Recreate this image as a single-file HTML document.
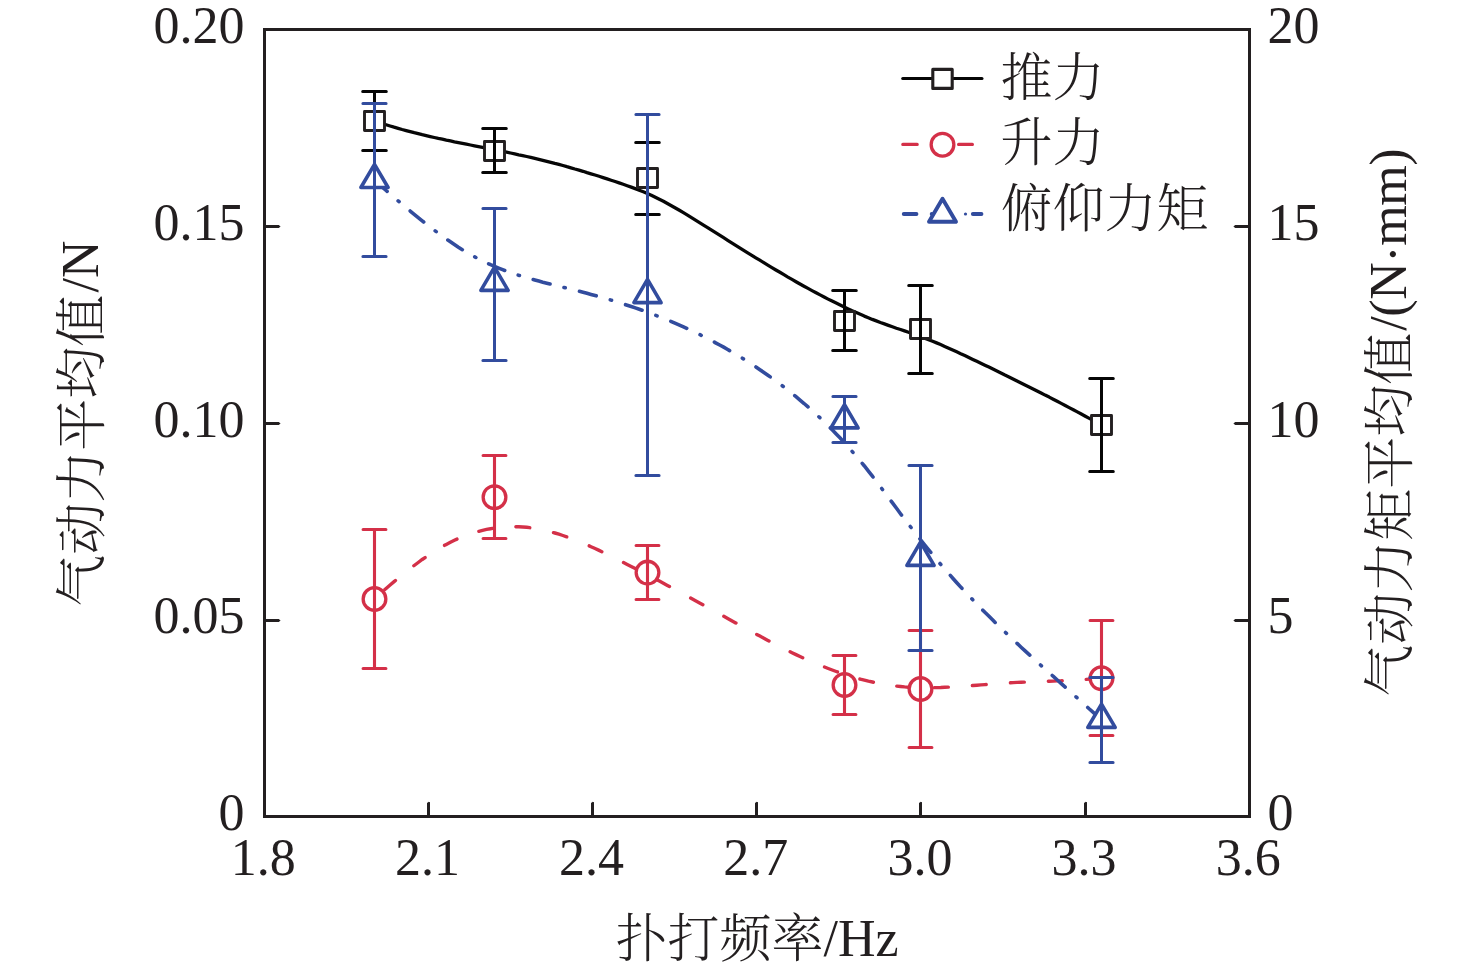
<!DOCTYPE html>
<html lang="zh"><head><meta charset="utf-8"><title>气动力平均值</title>
<style>
html,body{margin:0;padding:0;background:#fff}
svg{display:block}
text{font-family:"Liberation Serif","Noto Serif CJK SC",serif;fill:#231f20}
.t{font-size:52px}
.c{font-family:"Liberation Serif","Noto Serif CJK SC",serif;font-weight:300}
</style></head><body>
<svg width="1476" height="972" viewBox="0 0 1476 972">
<rect width="1476" height="972" fill="#fff"/>
<path d="M374.0,120.8 L378.0,122.2 L382.0,123.5 L386.1,124.8 L390.1,126.0 L394.1,127.2 L398.1,128.3 L402.1,129.5 L406.2,130.6 L410.2,131.6 L414.2,132.7 L418.2,133.7 L422.2,134.7 L426.2,135.6 L430.3,136.6 L434.3,137.5 L438.3,138.4 L442.3,139.2 L446.3,140.1 L450.4,140.9 L454.4,141.8 L458.4,142.6 L462.4,143.4 L466.4,144.2 L470.5,145.0 L474.5,145.8 L478.5,146.6 L482.5,147.4 L486.5,148.2 L490.5,149.0 L494.6,149.8 L498.6,150.6 L502.6,151.4 L506.6,152.2 L510.6,153.0 L514.7,153.9 L518.7,154.8 L522.7,155.6 L526.7,156.5 L530.7,157.4 L534.8,158.4 L538.8,159.3 L542.8,160.3 L546.8,161.3 L550.8,162.3 L554.8,163.4 L558.9,164.4 L562.9,165.5 L566.9,166.7 L570.9,167.8 L574.9,169.0 L579.0,170.1 L583.0,171.3 L587.0,172.6 L591.0,173.8 L595.0,175.0 L599.1,176.3 L603.1,177.6 L607.1,178.9 L611.1,180.2 L615.1,181.5 L619.1,182.9 L623.2,184.3 L627.2,185.7 L631.2,187.1 L635.2,188.6 L639.2,190.2 L643.3,191.8 L647.3,193.5 L651.3,195.3 L655.3,197.3 L659.3,199.3 L663.4,201.3 L667.4,203.5 L671.4,205.7 L675.4,208.0 L679.4,210.3 L683.4,212.7 L687.5,215.1 L691.5,217.6 L695.5,220.1 L699.5,222.6 L703.5,225.1 L707.6,227.6 L711.6,230.2 L715.6,232.7 L719.6,235.2 L723.6,237.7 L727.7,240.3 L731.7,242.8 L735.7,245.3 L739.7,247.8 L743.7,250.3 L747.7,252.8 L751.8,255.3 L755.8,257.8 L759.8,260.2 L763.8,262.7 L767.8,265.1 L771.9,267.6 L775.9,270.0 L779.9,272.3 L783.9,274.7 L787.9,277.1 L792.0,279.4 L796.0,281.7 L800.0,284.0 L804.0,286.2 L808.0,288.4 L812.0,290.6 L816.1,292.8 L820.1,294.9 L824.1,297.0 L828.1,299.1 L832.1,301.1 L836.2,303.1 L840.2,305.1 L844.2,307.0 L848.2,308.9 L852.2,310.8 L856.3,312.6 L860.3,314.3 L864.3,316.1 L868.3,317.7 L872.3,319.4 L876.3,320.9 L880.4,322.5 L884.4,323.9 L888.4,325.4 L892.4,326.8 L896.4,328.2 L900.5,329.5 L904.5,330.9 L908.5,332.3 L912.5,333.7 L916.5,335.1 L920.6,336.6 L924.6,338.1 L928.6,339.7 L932.6,341.3 L936.6,342.9 L940.6,344.6 L944.7,346.4 L948.7,348.2 L952.7,350.0 L956.7,351.8 L960.7,353.7 L964.8,355.5 L968.8,357.4 L972.8,359.4 L976.8,361.3 L980.8,363.2 L984.9,365.2 L988.9,367.1 L992.9,369.1 L996.9,371.0 L1000.9,373.0 L1004.9,375.0 L1009.0,376.9 L1013.0,378.9 L1017.0,380.9 L1021.0,382.9 L1025.0,384.9 L1029.1,386.9 L1033.1,388.9 L1037.1,391.0 L1041.1,393.0 L1045.1,395.1 L1049.2,397.1 L1053.2,399.2 L1057.2,401.3 L1061.2,403.4 L1065.2,405.5 L1069.2,407.6 L1073.3,409.7 L1077.3,411.9 L1081.3,414.0 L1085.3,416.2 L1089.3,418.4 L1093.4,420.6 L1097.4,422.8 L1101.4,425.0" fill="none" stroke="#060606" stroke-width="3.3" stroke-linecap="round" stroke-linejoin="round"/>
<rect x="364.5" y="111.5" width="20.0" height="19.0" fill="#fff" stroke="#231f20" stroke-width="2.9" stroke-linejoin="round"/>
<path d="M374.5,91.5V150.5M362.7,91.5H386.3M362.7,150.5H386.3" stroke="#060606" stroke-width="3" stroke-linecap="round" fill="none"/>
<rect x="484.5" y="141.5" width="20.0" height="19.0" fill="#fff" stroke="#231f20" stroke-width="2.9" stroke-linejoin="round"/>
<path d="M494.5,128.5V172.5M482.7,128.5H506.3M482.7,172.5H506.3" stroke="#060606" stroke-width="3" stroke-linecap="round" fill="none"/>
<rect x="637.5" y="168.5" width="20.0" height="19.0" fill="#fff" stroke="#231f20" stroke-width="2.9" stroke-linejoin="round"/>
<path d="M647.5,142.5V214.5M635.7,142.5H659.3M635.7,214.5H659.3" stroke="#060606" stroke-width="3" stroke-linecap="round" fill="none"/>
<rect x="834.5" y="311.5" width="20.0" height="19.0" fill="#fff" stroke="#231f20" stroke-width="2.9" stroke-linejoin="round"/>
<path d="M844.5,290.5V350.5M832.7,290.5H856.3M832.7,350.5H856.3" stroke="#060606" stroke-width="3" stroke-linecap="round" fill="none"/>
<rect x="910.5" y="319.5" width="20.0" height="19.0" fill="#fff" stroke="#231f20" stroke-width="2.9" stroke-linejoin="round"/>
<path d="M920.5,285.5V373.5M908.7,285.5H932.3M908.7,373.5H932.3" stroke="#060606" stroke-width="3" stroke-linecap="round" fill="none"/>
<rect x="1091.5" y="415.5" width="20.0" height="19.0" fill="#fff" stroke="#231f20" stroke-width="2.9" stroke-linejoin="round"/>
<path d="M1101.5,378.5V471.5M1089.7,378.5H1113.3M1089.7,471.5H1113.3" stroke="#060606" stroke-width="3" stroke-linecap="round" fill="none"/>
<path d="M374.0,599.0 L378.0,595.5 L382.0,592.0 L386.1,588.5 L390.1,585.0 L394.1,581.6 L398.1,578.3 L402.1,575.0 L406.2,571.7 L410.2,568.6 L414.2,565.5 L418.2,562.5 L422.2,559.5 L426.3,556.7 L430.3,554.0 L434.3,551.4 L438.3,548.9 L442.3,546.6 L446.3,544.4 L450.4,542.3 L454.4,540.3 L458.4,538.5 L462.4,536.8 L466.4,535.3 L470.5,533.8 L474.5,532.6 L478.5,531.4 L482.5,530.4 L486.5,529.4 L490.6,528.7 L494.6,528.0 L498.6,527.5 L502.6,527.1 L506.6,526.8 L510.7,526.7 L514.7,526.7 L518.7,526.8 L522.7,527.0 L526.7,527.3 L530.8,527.8 L534.8,528.4 L538.8,529.1 L542.8,529.9 L546.8,530.8 L550.9,531.9 L554.9,533.0 L558.9,534.2 L562.9,535.5 L566.9,536.9 L570.9,538.4 L575.0,539.9 L579.0,541.5 L583.0,543.2 L587.0,544.9 L591.0,546.7 L595.1,548.5 L599.1,550.4 L603.1,552.3 L607.1,554.3 L611.1,556.3 L615.2,558.3 L619.2,560.3 L623.2,562.3 L627.2,564.4 L631.2,566.4 L635.3,568.5 L639.3,570.6 L643.3,572.7 L647.3,574.8 L651.3,576.9 L655.4,579.0 L659.4,581.1 L663.4,583.3 L667.4,585.4 L671.4,587.6 L675.5,589.7 L679.5,591.9 L683.5,594.1 L687.5,596.3 L691.5,598.5 L695.5,600.7 L699.6,602.9 L703.6,605.1 L707.6,607.3 L711.6,609.5 L715.6,611.7 L719.7,614.0 L723.7,616.2 L727.7,618.4 L731.7,620.7 L735.7,622.9 L739.8,625.1 L743.8,627.3 L747.8,629.6 L751.8,631.8 L755.8,633.9 L759.9,636.1 L763.9,638.3 L767.9,640.4 L771.9,642.5 L775.9,644.6 L780.0,646.7 L784.0,648.7 L788.0,650.7 L792.0,652.7 L796.0,654.6 L800.0,656.5 L804.1,658.4 L808.1,660.2 L812.1,661.9 L816.1,663.7 L820.1,665.3 L824.2,666.9 L828.2,668.5 L832.2,670.0 L836.2,671.5 L840.2,672.9 L844.3,674.3 L848.3,675.6 L852.3,676.8 L856.3,678.0 L860.3,679.1 L864.4,680.1 L868.4,681.1 L872.4,682.0 L876.4,682.9 L880.4,683.7 L884.5,684.4 L888.5,685.0 L892.5,685.6 L896.5,686.1 L900.5,686.5 L904.6,686.9 L908.6,687.2 L912.6,687.4 L916.6,687.6 L920.6,687.7 L924.6,687.7 L928.7,687.7 L932.7,687.7 L936.7,687.6 L940.7,687.5 L944.7,687.3 L948.8,687.1 L952.8,686.9 L956.8,686.7 L960.8,686.4 L964.8,686.1 L968.9,685.8 L972.9,685.5 L976.9,685.2 L980.9,684.9 L984.9,684.6 L989.0,684.3 L993.0,684.0 L997.0,683.7 L1001.0,683.4 L1005.0,683.1 L1009.1,682.9 L1013.1,682.6 L1017.1,682.4 L1021.1,682.2 L1025.1,682.1 L1029.2,681.9 L1033.2,681.8 L1037.2,681.6 L1041.2,681.5 L1045.2,681.3 L1049.2,681.2 L1053.3,681.1 L1057.3,680.9 L1061.3,680.8 L1065.3,680.6 L1069.3,680.4 L1073.4,680.2 L1077.4,680.0 L1081.4,679.7 L1085.4,679.4 L1089.4,679.1 L1093.5,678.8 L1097.5,678.4 L1101.5,678.0" fill="none" stroke="#d43048" stroke-width="3.4" stroke-linecap="round" stroke-dasharray="13.90 23.58 13.90 23.00 13.90 23.28 13.90 23.53 13.90 24.28 13.90 24.22 13.90 24.22 13.90 24.07 13.90 24.11 13.90 23.95 13.90 23.71 13.90 23.74 13.90 23.69 13.90 23.51 13.90 23.67 13.90 23.82 13.90 24.13 13.90 24.23 13.90 24.07 13.90 24.01 13.90 2000.00" stroke-dashoffset="-14.43"/>
<circle cx="374.5" cy="599.0" r="11.35" fill="#fff" stroke="#d43048" stroke-width="3.3"/>
<path d="M374.5,529.5V668.5M363.1,529.5H385.9M363.1,668.5H385.9" stroke="#d43048" stroke-width="3.1" stroke-linecap="round" fill="none"/>
<circle cx="494.5" cy="497.2" r="11.35" fill="#fff" stroke="#d43048" stroke-width="3.3"/>
<path d="M494.5,455.5V538.5M483.1,455.5H505.9M483.1,538.5H505.9" stroke="#d43048" stroke-width="3.1" stroke-linecap="round" fill="none"/>
<circle cx="647.5" cy="572.6" r="11.35" fill="#fff" stroke="#d43048" stroke-width="3.3"/>
<path d="M647.5,545.5V599.5M636.1,545.5H658.9M636.1,599.5H658.9" stroke="#d43048" stroke-width="3.1" stroke-linecap="round" fill="none"/>
<circle cx="844.5" cy="685.0" r="11.35" fill="#fff" stroke="#d43048" stroke-width="3.3"/>
<path d="M844.5,655.5V714.5M833.1,655.5H855.9M833.1,714.5H855.9" stroke="#d43048" stroke-width="3.1" stroke-linecap="round" fill="none"/>
<circle cx="920.5" cy="689.0" r="11.35" fill="#fff" stroke="#d43048" stroke-width="3.3"/>
<path d="M920.5,630.5V747.5M909.1,630.5H931.9M909.1,747.5H931.9" stroke="#d43048" stroke-width="3.1" stroke-linecap="round" fill="none"/>
<circle cx="1101.5" cy="678.3" r="11.35" fill="#fff" stroke="#d43048" stroke-width="3.3"/>
<path d="M1101.5,620.5V735.5M1090.1,620.5H1112.9M1090.1,735.5H1112.9" stroke="#d43048" stroke-width="3.1" stroke-linecap="round" fill="none"/>
<path d="M374.0,180.0 L378.0,183.5 L382.0,187.0 L386.1,190.5 L390.1,193.9 L394.1,197.4 L398.1,200.8 L402.1,204.2 L406.2,207.6 L410.2,211.0 L414.2,214.3 L418.2,217.6 L422.2,220.8 L426.3,224.0 L430.3,227.1 L434.3,230.2 L438.3,233.2 L442.3,236.2 L446.3,239.0 L450.4,241.8 L454.4,244.5 L458.4,247.2 L462.4,249.7 L466.4,252.1 L470.5,254.5 L474.5,256.7 L478.5,258.9 L482.5,260.9 L486.5,262.8 L490.6,264.7 L494.6,266.4 L498.6,268.1 L502.6,269.7 L506.6,271.2 L510.7,272.6 L514.7,274.0 L518.7,275.3 L522.7,276.5 L526.7,277.7 L530.8,278.9 L534.8,280.0 L538.8,281.1 L542.8,282.2 L546.8,283.2 L550.9,284.2 L554.9,285.2 L558.9,286.2 L562.9,287.2 L566.9,288.2 L570.9,289.2 L575.0,290.2 L579.0,291.2 L583.0,292.2 L587.0,293.3 L591.0,294.4 L595.1,295.5 L599.1,296.6 L603.1,297.8 L607.1,298.9 L611.1,300.1 L615.2,301.3 L619.2,302.6 L623.2,303.9 L627.2,305.2 L631.2,306.5 L635.3,307.9 L639.3,309.3 L643.3,310.7 L647.3,312.2 L651.3,313.7 L655.4,315.2 L659.4,316.7 L663.4,318.3 L667.4,320.0 L671.4,321.6 L675.5,323.4 L679.5,325.1 L683.5,326.9 L687.5,328.7 L691.5,330.6 L695.5,332.5 L699.6,334.5 L703.6,336.5 L707.6,338.5 L711.6,340.6 L715.6,342.8 L719.7,345.0 L723.7,347.2 L727.7,349.5 L731.7,351.8 L735.7,354.2 L739.8,356.7 L743.8,359.1 L747.8,361.7 L751.8,364.3 L755.8,366.9 L759.9,369.7 L763.9,372.4 L767.9,375.2 L771.9,378.1 L775.9,381.1 L780.0,384.1 L784.0,387.1 L788.0,390.3 L792.0,393.5 L796.0,396.7 L800.0,400.1 L804.1,403.5 L808.1,407.0 L812.1,410.5 L816.1,414.2 L820.1,417.9 L824.2,421.8 L828.2,425.7 L832.2,429.8 L836.2,433.9 L840.2,438.1 L844.3,442.5 L848.3,447.0 L852.3,451.6 L856.3,456.3 L860.3,461.1 L864.4,466.0 L868.4,471.1 L872.4,476.2 L876.4,481.5 L880.4,486.8 L884.5,492.1 L888.5,497.5 L892.5,502.9 L896.5,508.3 L900.5,513.7 L904.6,519.0 L908.6,524.3 L912.6,529.5 L916.6,534.7 L920.6,539.8 L924.6,544.9 L928.7,549.9 L932.7,554.8 L936.7,559.6 L940.7,564.4 L944.7,569.0 L948.8,573.6 L952.8,578.2 L956.8,582.7 L960.8,587.1 L964.8,591.4 L968.9,595.7 L972.9,599.9 L976.9,604.1 L980.9,608.2 L984.9,612.3 L989.0,616.3 L993.0,620.3 L997.0,624.3 L1001.0,628.2 L1005.0,632.0 L1009.1,635.9 L1013.1,639.7 L1017.1,643.4 L1021.1,647.2 L1025.1,650.9 L1029.2,654.6 L1033.2,658.3 L1037.2,661.9 L1041.2,665.6 L1045.2,669.2 L1049.2,672.8 L1053.3,676.4 L1057.3,680.0 L1061.3,683.6 L1065.3,687.2 L1069.3,690.8 L1073.4,694.4 L1077.4,698.1 L1081.4,701.7 L1085.4,705.3 L1089.4,709.0 L1093.5,712.6 L1097.5,716.3 L1101.5,720.0" fill="none" stroke="#324c9e" stroke-width="3.6" stroke-linecap="round" stroke-dasharray="17.40 14.48 1.30 14.51 17.40 14.51 1.30 14.32 17.40 14.32 1.30 14.26 17.40 14.26 1.30 14.38 17.40 14.38 1.30 14.62 17.40 14.62 1.30 14.71 17.40 14.71 1.30 14.79 17.40 14.79 1.30 14.85 17.40 14.85 1.30 14.89 17.40 14.89 1.30 14.69 17.40 14.69 1.30 14.62 17.40 14.62 1.30 14.41 17.40 14.41 1.30 14.41 17.40 14.41 1.30 14.38 17.40 14.38 1.30 14.44 17.40 14.44 1.30 14.46 17.40 14.46 1.30 14.52 17.40 14.52 1.30 14.50 17.40 14.50 1.30 14.55 17.40 2000.00"/>
<path d="M374.5,164.3L388.1,187.5H360.9Z" fill="#fff" stroke="#324c9e" stroke-width="3.6" stroke-linejoin="round"/>
<path d="M374.5,103.5V256.5M362.9,103.5H386.1M362.9,256.5H386.1" stroke="#324c9e" stroke-width="3" stroke-linecap="round" fill="none"/>
<path d="M494.5,267.2L508.1,290.4H480.9Z" fill="#fff" stroke="#324c9e" stroke-width="3.6" stroke-linejoin="round"/>
<path d="M494.5,208.5V360.5M482.9,208.5H506.1M482.9,360.5H506.1" stroke="#324c9e" stroke-width="3" stroke-linecap="round" fill="none"/>
<path d="M647.5,279.4L661.1,302.6H633.9Z" fill="#fff" stroke="#324c9e" stroke-width="3.6" stroke-linejoin="round"/>
<path d="M647.5,114.5V475.5M635.9,114.5H659.1M635.9,475.5H659.1" stroke="#324c9e" stroke-width="3" stroke-linecap="round" fill="none"/>
<path d="M844.5,404.7L858.1,427.9H830.9Z" fill="#fff" stroke="#324c9e" stroke-width="3.6" stroke-linejoin="round"/>
<path d="M844.5,396.5V442.5M832.9,396.5H856.1M832.9,442.5H856.1" stroke="#324c9e" stroke-width="3" stroke-linecap="round" fill="none"/>
<path d="M920.5,542.2L934.1,565.4H906.9Z" fill="#fff" stroke="#324c9e" stroke-width="3.6" stroke-linejoin="round"/>
<path d="M920.5,465.5V650.5M908.9,465.5H932.1M908.9,650.5H932.1" stroke="#324c9e" stroke-width="3" stroke-linecap="round" fill="none"/>
<path d="M1101.5,704.2L1115.2,727.4H1087.8Z" fill="#fff" stroke="#324c9e" stroke-width="3.6" stroke-linejoin="round"/>
<path d="M1101.5,677.5V762.5M1089.9,677.5H1113.1M1089.9,762.5H1113.1" stroke="#324c9e" stroke-width="3" stroke-linecap="round" fill="none"/>
<rect x="264.5" y="29.5" width="985.0" height="787.0" fill="none" stroke="#231f20" stroke-width="3"/>
<path d="M264.5,225.0H278.8L280.6,226.5L278.8,228.0H264.5ZM1249.5,225.0H1235.2L1233.4,226.5L1235.2,228.0H1249.5ZM264.5,422.0H278.8L280.6,423.5L278.8,425.0H264.5ZM1249.5,422.0H1235.2L1233.4,423.5L1235.2,425.0H1249.5ZM264.5,619.0H278.8L280.6,620.5L278.8,622.0H264.5ZM1249.5,619.0H1235.2L1233.4,620.5L1235.2,622.0H1249.5ZM427.0,816.5V803.1L428.8,801.7L430.0,802.3V816.5ZM591.0,816.5V803.1L592.8,801.7L594.0,802.3V816.5ZM755.0,816.5V803.1L756.8,801.7L758.0,802.3V816.5ZM919.0,816.5V803.1L920.8,801.7L922.0,802.3V816.5ZM1084.0,816.5V803.1L1085.8,801.7L1087.0,802.3V816.5Z" fill="#231f20"/>
<text class="t" x="244.5" y="43.1" text-anchor="end">0.20</text>
<text class="t" x="244.5" y="239.8" text-anchor="end">0.15</text>
<text class="t" x="244.5" y="436.6" text-anchor="end">0.10</text>
<text class="t" x="244.5" y="633.4" text-anchor="end">0.05</text>
<text class="t" x="244.5" y="830.1" text-anchor="end">0</text>
<text class="t" x="1267.6" y="43.1">20</text>
<text class="t" x="1267.6" y="239.8">15</text>
<text class="t" x="1267.6" y="436.6">10</text>
<text class="t" x="1267.6" y="633.4">5</text>
<text class="t" x="1267.6" y="830.1">0</text>
<text class="t" x="263.2" y="875.3" text-anchor="middle">1.8</text>
<text class="t" x="427.4" y="875.3" text-anchor="middle">2.1</text>
<text class="t" x="591.5" y="875.3" text-anchor="middle">2.4</text>
<text class="t" x="755.7" y="875.3" text-anchor="middle">2.7</text>
<text class="t" x="919.9" y="875.3" text-anchor="middle">3.0</text>
<text class="t" x="1084.0" y="875.3" text-anchor="middle">3.3</text>
<text class="t" x="1248.2" y="875.3" text-anchor="middle">3.6</text>
<text class="t c" x="757" y="955.5" text-anchor="middle"><tspan dy="1.8">扑打频率</tspan><tspan dy="-1.8">/Hz</tspan></text>
<text class="t c" transform="translate(98,423.7) rotate(-90)" text-anchor="middle"><tspan dy="1.6">气动力平均值</tspan><tspan dy="-1.6" dx="2.3">/N</tspan></text>
<text class="t c" transform="translate(1406,422.8) rotate(-90)" text-anchor="middle"><tspan dy="1.6">气动力矩平均值</tspan><tspan dy="-1.6" dx="2" letter-spacing="-0.4">/(N</tspan><tspan dy="3.5" letter-spacing="-0.4">·</tspan><tspan dy="-3.5" letter-spacing="-0.4">mm)</tspan></text>
<path d="M902.7,78.6H982" stroke="#060606" stroke-width="3" stroke-linecap="round"/>
<rect x="932.8" y="69.4" width="19.4" height="19" fill="#fff" stroke="#231f20" stroke-width="3.1" stroke-linejoin="round"/>
<path d="M902.8,144.4H917.2M958.6,144.4H972.4" stroke="#d43048" stroke-width="3.2" stroke-linecap="round"/>
<circle cx="942.5" cy="144.7" r="11.35" fill="#fff" stroke="#d43048" stroke-width="3.3"/>
<path d="M903.75,214H916.45M931.7,213.9h0.01M972.85,214H981.45" stroke="#324c9e" stroke-width="3.9" stroke-linecap="round"/>
<circle cx="965.5" cy="214" r="1.6" fill="#324c9e"/>
<path d="M942.5,198.7L956,221.8H929Z" fill="#fff" stroke="#324c9e" stroke-width="3.9" stroke-linejoin="round"/>
<text class="t c" x="1000.5" y="95.8">推力</text>
<text class="t c" x="1000.5" y="161.3">升力</text>
<text class="t c" x="1000.5" y="226.9">俯仰力矩</text>
</svg></body></html>
